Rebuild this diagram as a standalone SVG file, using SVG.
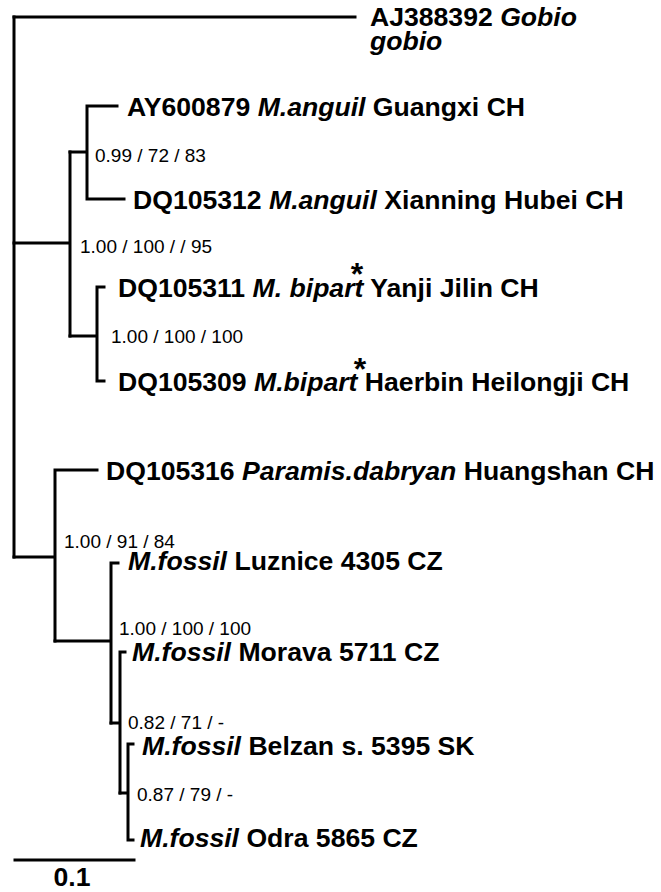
<svg xmlns="http://www.w3.org/2000/svg" width="661" height="892" viewBox="0 0 661 892">
<style>
.br{fill:none;stroke:#000;stroke-width:3;stroke-linecap:square;stroke-linejoin:miter}
.lab{font-family:"Liberation Sans",Arial,sans-serif;font-size:26.6px;font-weight:bold;fill:#000}
.it{font-style:italic}
.sup{font-family:"Liberation Sans",Arial,sans-serif;font-size:19px;fill:#000}
.ast{font-family:"Liberation Sans",Arial,sans-serif;font-size:32px;font-weight:bold;fill:#000;text-anchor:middle}
</style>
<rect width="661" height="892" fill="#fff"/>
<g id="connectors">
<path class="br" d="M14,17 V557"/>
<path class="br" d="M14,17 H355"/>
<path class="br" d="M14,243 H70 M70,152 V336"/>
<path class="br" d="M70,152 H87 M87,106 V199 M87,106 H117 M87,199 H124"/>
<path class="br" d="M70,336 H97 M97,287 V381 M97,287 H104 M97,381 H104"/>
<path class="br" d="M14,557 H55 M55,470 V641 M55,470 H97"/>
<path class="br" d="M55,641 H111 M111,563 V723 M111,563 H118"/>
<path class="br" d="M111,723 H120 M120,652 V793 M120,652 H125"/>
<path class="br" d="M120,793 H128 M128,744 V840 M128,744 H133 M128,840 H133"/>
</g>
<g id="leaf-AJ388392"><text class="lab" x="370" y="26">AJ388392 <tspan class="it">Gobio</tspan></text><text class="lab it" x="370" y="50">gobio</text></g>
<g id="leaf-AY600879"><text class="lab" x="127" y="116">AY600879 <tspan class="it">M.anguil</tspan> Guangxi CH</text></g>
<g id="leaf-DQ105312"><text class="lab" x="133" y="209">DQ105312 <tspan class="it">M.anguil</tspan> Xianning Hubei CH</text></g>
<g id="leaf-DQ105311"><text class="lab" x="118" y="297">DQ105311 <tspan class="it">M. bipart</tspan> Yanji Jilin CH</text><text class="ast" x="357" y="285">*</text></g>
<g id="leaf-DQ105309"><text class="lab" x="118" y="391">DQ105309 <tspan class="it">M.bipart</tspan> Haerbin Heilongji CH</text><text class="ast" x="360" y="380">*</text></g>
<g id="leaf-DQ105316"><text class="lab" x="106" y="480">DQ105316 <tspan class="it">Paramis.dabryan</tspan> Huangshan CH</text></g>
<g id="leaf-Luznice"><text class="lab" x="128" y="570"><tspan class="it">M.fossil</tspan> Luznice 4305 CZ</text></g>
<g id="leaf-Morava"><text class="lab" x="132" y="661"><tspan class="it">M.fossil</tspan> Morava 5711 CZ</text></g>
<g id="leaf-Belzan"><text class="lab" x="142" y="755"><tspan class="it">M.fossil</tspan> Belzan s. 5395 SK</text></g>
<g id="leaf-Odra"><text class="lab" x="140" y="847"><tspan class="it">M.fossil</tspan> Odra 5865 CZ</text></g>
<g id="node-anguil"><text class="sup" x="95" y="162">0.99 / 72 / 83</text></g>
<g id="node-anguil-bipart"><text class="sup" x="80" y="253">1.00 / 100 / / 95</text></g>
<g id="node-bipart"><text class="sup" x="111" y="343">1.00 / 100 / 100</text></g>
<g id="node-paramis-fossil"><text class="sup" x="64" y="548">1.00 / 91 / 84</text></g>
<g id="node-fossil"><text class="sup" x="119" y="635">1.00 / 100 / 100</text></g>
<g id="node-fossil-2"><text class="sup" x="128" y="729">0.82 / 71 / -</text></g>
<g id="node-fossil-3"><text class="sup" x="137" y="801">0.87 / 79 / -</text></g>
<g id="scale"><path class="br" d="M15,860 H134"/><text class="lab" x="72" y="886" text-anchor="middle">0.1</text></g>
</svg>
